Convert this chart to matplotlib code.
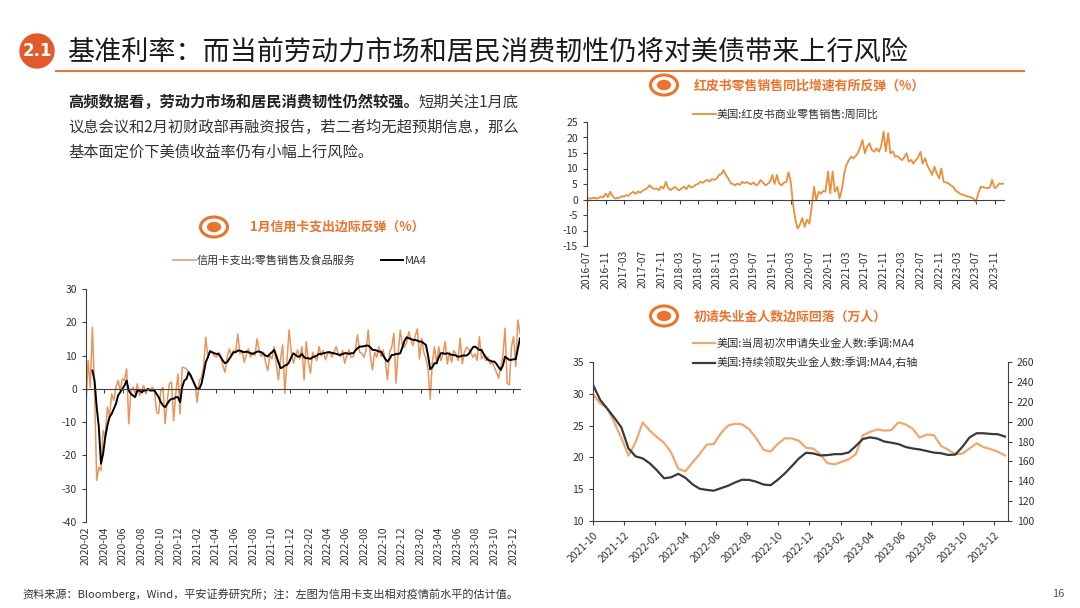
import pandas as pd
import matplotlib
matplotlib.use('Agg')
import matplotlib.pyplot as plt
import matplotlib.dates as mdates
from matplotlib.patches import Circle, Ellipse

plt.rcParams['font.family'] = ['Noto Sans CJK SC', 'DejaVu Sans']
plt.rcParams['axes.unicode_minus'] = False

# ---------------- data ----------------
# credit card spending vs pre-covid level, weekly from 2020-02-01
card_start = '2020-02-01'
card_spend = [
    -4.5, 8.5, 0.5, 18.5, -0.5, -27.5, -23.5, -24.5, -12.5, -14.5,
    -5.5, -8.5, -1.5, -3.5, 0.5, 2.5, -0.5, 3.0, 2.5, 6.0,
    -10.5, -0.5, 0.5, -1.5, 1.5, -2.0, -0.5, 1.0, -1.5, 0.0,
    -0.5, 0.5, -0.5, -7.0, -7.5, -0.5, 0.5, -10.5, -3.5, 1.5,
    2.0, -9.5, -1.5, 4.5, -7.5, 6.5, 6.3, 6.0, 5.0, 3.5,
    2.5, 1.5, -4.0, 2.5, 3.5, 6.5, 15.5, 9.5, 11.5, 11.0,
    10.0, 9.5, 11.0, 10.0, 7.0, 5.0, 9.5, 12.0, 10.0, 11.5,
    11.0, 16.5, 10.5, 11.5, 8.0, 10.5, 12.0, 9.5, 11.0, 10.0,
    15.0, 11.5, 9.7, 11.0, 8.0, 5.5, 10.0, 9.0, 12.7, 7.5,
    2.7, 9.0, 13.2, -1.3, 8.5, 17.7, 11.0, 7.7, 10.0, 11.7,
    9.0, 12.7, 2.7, 14.2, 8.0, 4.7, 11.0, 9.7, 8.5, 12.7,
    10.0, 11.5, 8.7, 10.5, 11.2, 9.5, 11.0, 12.7, 10.5, 9.7,
    11.5, 7.7, 10.0, 11.7, 9.5, 9.7, 12.0, 16.2, 11.0, 10.7,
    9.5, 11.7, 17.7, 10.0, 5.7, 11.0, 9.5, 12.7, 9.7, 11.7,
    8.5, 2.7, 11.0, 12.5, 16.7, 1.7, 11.0, 17.7, 13.0, 12.5,
    14.0, 17.2, 14.5, 13.0, 16.0, 18.0, 9.0, 15.2, 11.0, 9.0,
    6.0, -3.1, 8.0, 12.7, 7.5, 12.7, 8.5, 10.5, 14.2, 7.5,
    11.0, 8.0, 11.5, 10.5, 8.5, 15.2, 7.5, 11.0, 12.5, 12.0,
    11.0, 9.5, 10.5, 8.5, 15.7, 9.0, 10.0, 8.5, 9.5, 7.5,
    8.0, 6.5, 5.0, 3.2, 6.5, 10.0, 18.2, 1.7, 1.2, 12.7,
    15.7, 6.7, 20.7, 16.7,
]
card_ma4_start = '2020-02-22'
card_ma4 = [
    5.5, 2.5, -5.5, -11.5, -22.5, -19.5, -14.5, -11.0, -8.5, -7.5,
    -6.0, -4.5, -2.0, -1.0, 0.0, 1.0, 2.5, -0.5, -1.5, -2.0,
    -2.5, -0.5, -0.5, -1.0, -0.5, -0.5, 0.0, -0.5, -0.5, -0.5,
    -1.5, -2.5, -4.0, -5.0, -5.5, -4.5, -3.5, -3.0, -3.0, -2.5,
    -2.5, -4.0, 0.5, 2.5, 3.0, 5.0, 4.0, 2.5, 1.0, 0.0,
    0.0, 1.5, 4.5, 8.0, 9.5, 11.3, 11.0, 10.7, 10.5, 10.5,
    9.5, 8.5, 7.7, 8.0, 9.0, 10.0, 11.0, 11.0, 11.5, 11.5,
    11.2, 11.0, 11.2, 11.0, 10.7, 10.5, 10.8, 11.2, 11.2, 11.0,
    10.5, 10.0, 9.7, 10.5, 11.0, 11.7, 10.0, 8.0, 6.2, 6.5,
    7.0, 7.2, 8.0, 9.5, 10.7, 10.2, 9.7, 9.7, 10.5, 9.5,
    9.2, 9.2, 9.0, 9.5, 9.7, 10.0, 10.5, 10.5, 10.7, 10.8,
    11.0, 11.0, 10.8, 10.7, 10.5, 10.3, 10.2, 10.5, 10.7, 10.7,
    10.5, 10.7, 10.7, 11.5, 12.2, 12.7, 12.7, 12.8, 13.0, 13.0,
    12.5, 11.7, 11.7, 11.5, 11.2, 11.2, 10.0, 9.0, 8.2, 9.0,
    10.2, 10.2, 10.5, 10.5, 10.7, 12.5, 14.5, 15.5, 15.2, 15.0,
    14.7, 14.7, 14.5, 14.2, 14.2, 13.7, 13.2, 10.0, 5.9, 6.5,
    7.7, 7.7, 9.5, 10.7, 10.7, 10.5, 10.7, 10.5, 10.2, 10.2,
    10.0, 9.7, 9.7, 10.0, 10.0, 10.0, 10.5, 11.5, 12.5, 12.7,
    12.2, 11.7, 11.7, 10.5, 9.5, 8.7, 8.5, 8.2, 8.2, 7.5,
    6.5, 5.7, 7.0, 9.7, 9.2, 8.7, 8.7, 8.9, 8.9, 12.0, 15.2,
]

# Redbook same-store sales yoy, twice a month from 2016-07
redbook_start = '2016-07-01'
redbook_yoy = [
    0.2, 0.4, 0.3, 0.6, 0.3, 0.5, 1.0, 0.6, 1.9, 0.8,
    2.5, 1.2, 0.3, 0.5, 0.6, 1.1, 0.9, 1.4, 1.2, 2.0,
    2.5, 1.8, 2.6, 2.2, 2.8, 3.2, 3.6, 4.6, 3.8, 3.4,
    3.6, 3.0, 4.2, 3.5, 5.7, 3.8, 3.0, 3.6, 4.1, 3.2,
    3.0, 3.6, 4.2, 3.3, 4.6, 3.9, 4.1, 4.8, 5.0, 5.7,
    5.4, 6.0, 6.3, 5.8, 6.6, 6.3, 6.8, 7.9, 8.2, 9.5,
    7.8, 6.8, 5.2, 5.0, 4.6, 5.1, 4.7, 5.7, 5.3, 5.6,
    5.2, 4.9, 5.5, 4.6, 5.0, 6.3, 5.4, 4.6, 5.0, 5.7,
    7.9, 5.0, 7.9, 5.2, 4.6, 5.4, 5.7, 8.8, 5.7, -1.3,
    -6.7, -9.4, -8.0, -6.0, -8.8, -6.5, -7.8, -3.0, 4.1, -0.2,
    2.5, 1.9, 2.8, 2.5, 9.0, 2.0, 9.0, 2.5, 4.1, 0.3,
    3.6, 8.4, 11.0, 12.5, 13.8, 13.3, 14.0, 14.9, 17.0, 19.2,
    14.9, 17.0, 18.1, 16.0, 15.4, 16.5, 15.4, 17.0, 21.9, 15.5,
    21.4, 14.9, 15.5, 13.8, 14.0, 13.3, 12.7, 13.5, 14.9, 12.2,
    12.8, 11.6, 12.7, 13.5, 15.4, 11.6, 13.3, 11.0, 9.5, 7.9,
    10.6, 8.5, 6.8, 10.0, 5.7, 5.5, 5.2, 4.6, 4.1, 3.0,
    2.5, 1.9, 1.6, 1.4, 1.1, 0.9, 0.6, 0.3, -0.8, 1.9,
    4.1, 4.0, 3.8, 3.6, 4.0, 6.3, 3.6, 4.1, 5.2, 5.0,
    5.2,
]

# jobless claims MA4 (10k persons), every two weeks from 2021-10-01
claims_start = '2021-10-01'
initial_claims = [
    29.9, 28.5, 27.8, 25.5, 23.0, 20.3, 22.4, 25.5, 24.2, 23.2,
    22.3, 20.8, 18.2, 17.8, 19.2, 20.5, 22.0, 22.1, 23.8, 25.0,
    25.3, 25.2, 24.4, 23.0, 21.2, 20.9, 22.1, 23.0, 23.0, 22.6,
    21.5, 21.4, 20.5, 19.1, 18.9, 19.3, 19.7, 20.5, 23.5, 24.0,
    24.4, 24.2, 24.3, 25.5, 25.2, 24.5, 23.1, 23.6, 23.5, 21.8,
    21.2, 20.5, 20.6, 21.4, 22.2, 21.6, 21.3, 20.9, 20.3,
]
continuing_claims = [
    237, 222, 213, 204, 194, 173, 165, 163, 158, 151,
    143, 144, 147.5, 143.5, 137, 132.5, 131.3, 130.5, 133, 135.4,
    138.8, 141.5, 141.3, 139.5, 136.7, 136, 141.4, 147.8, 155.3, 163,
    168.7, 168, 166, 166.3, 167.3, 167.3, 169, 175.5, 182.5, 184.2,
    183, 180, 178.8, 177.4, 174.5, 173, 172, 170.4, 168.8, 168.2,
    166.5, 166.8, 174.5, 184, 188.3, 188.3, 187.6, 187.3, 185,
]

title = '基准利率：而当前劳动力市场和居民消费韧性仍将对美债带来上行风险'
para_bold = '高频数据看，劳动力市场和居民消费韧性仍然较强。'
para_rest = ['短期关注1月底',
             '议息会议和2月初财政部再融资报告，若二者均无超预期信息，那么',
             '基本面定价下美债收益率仍有小幅上行风险。']
footer = '资料来源：Bloomberg，Wind，平安证券研究所；注：左图为信用卡支出相对疫情前水平的估计值。'

ORANGE = '#E8742E'
LINE_OR = '#E8955C'
AXC = '#404040'

card_dates = pd.date_range(card_start, periods=len(card_spend), freq='7D')
ma4_dates = pd.date_range(card_ma4_start, periods=len(card_ma4), freq='7D')
redbook_dates = pd.date_range(redbook_start, periods=len(redbook_yoy), freq='SMS')
claims_dates = pd.date_range(claims_start, periods=len(initial_claims), freq='14D')

fig = plt.figure(figsize=(10.8, 6.08), dpi=100)

# overlay in pixel coordinates for header / text / icons
ov = fig.add_axes([0, 0, 1, 1], zorder=0)
ov.set_xlim(0, 1080)
ov.set_ylim(608, 0)
ov.axis('off')

ov.add_patch(Circle((37, 51), 17, color='#E35A2A'))
ov.text(37, 51, '2.1', color='white', fontsize=12, fontweight='bold',
        ha='center', va='center', family='DejaVu Sans')
ov.text(67, 52, title, fontsize=19.5, ha='left', va='center', color='#1a1a1a')
ov.plot([56, 1024], [71, 71], color='#E07B39', lw=1.5)

t1 = ov.text(68, 102, para_bold, fontsize=11.0, fontweight='bold',
             ha='left', va='center', color='#222222')
ov.annotate(para_rest[0], xy=(1, 0.5), xycoords=t1, fontsize=11.0,
            ha='left', va='center', color='#333333')
ov.text(68, 127, para_rest[1], fontsize=11.0, ha='left', va='center', color='#333333')
ov.text(68, 152, para_rest[2], fontsize=11.0, ha='left', va='center', color='#333333')


def icon(x, y):
    ov.add_patch(Ellipse((x, y), 27, 20, fill=False, ec=ORANGE, lw=2.2))
    ov.add_patch(Ellipse((x, y), 13, 9, color=ORANGE))


icon(214, 227)
ov.text(250, 227, '1月信用卡支出边际反弹（%）', fontsize=9.3, fontweight='bold',
        color=ORANGE, ha='left', va='center')
icon(664, 85)
ov.text(694, 86, '红皮书零售销售同比增速有所反弹（%）', fontsize=9.3, fontweight='bold',
        color=ORANGE, ha='left', va='center')
icon(664, 316)
ov.text(694, 317, '初请失业金人数边际回落（万人）', fontsize=9.3, fontweight='bold',
        color=ORANGE, ha='left', va='center')

ov.text(22, 594, footer, fontsize=8, color='#333333', ha='left', va='center')
ov.text(1058, 594, '16', fontsize=8, color='#555555', ha='center', va='center')


def style_axis(ax):
    ax.set_facecolor('none')
    for s in ['top', 'right']:
        ax.spines[s].set_visible(False)
    ax.spines['left'].set_color(AXC)
    ax.spines['bottom'].set_color(AXC)
    ax.tick_params(axis='both', colors=AXC, labelcolor='#333333', labelsize=7.5,
                   direction='out', length=3, width=0.8)


def zero_xaxis(ax, ticks):
    # axis line at y=0 with ticks, labels at the bottom of the plot
    pos = mdates.date2num(ticks)
    ax.spines['bottom'].set_position(('data', 0))
    ax.set_xticks(pos)
    ax.tick_params(axis='x', labelbottom=False)
    sec = ax.secondary_xaxis('bottom')
    sec.set_xticks(pos, [d.strftime('%Y-%m') for d in ticks], rotation=90)
    sec.tick_params(length=0, labelsize=7.5, labelcolor='#333333', pad=3)
    sec.spines['bottom'].set_visible(False)


# ---- left: credit card spending ----
ax1 = fig.add_axes([86 / 1080, 1 - 522 / 608, 434 / 1080, 233 / 608], zorder=2)
style_axis(ax1)
l1, = ax1.plot(card_dates, card_spend, color=LINE_OR, lw=1.1)
l2, = ax1.plot(ma4_dates, card_ma4, color='black', lw=1.4)
ax1.set_ylim(-40, 30)
ax1.set_yticks(range(-40, 31, 10))
ax1.set_xlim(card_dates[0], card_dates[-1])
zero_xaxis(ax1, pd.date_range('2020-02-01', '2023-12-01', freq='2MS'))
ax1.legend([l1, l2], ['信用卡支出:零售销售及食品服务', 'MA4'], loc='center',
           bbox_to_anchor=(300, 261), bbox_transform=ov.transData, ncol=2,
           frameon=False, fontsize=8, handlelength=2.0, handletextpad=0.1,
           columnspacing=2.3, labelcolor='#333333')

# ---- right top: Redbook ----
ax2 = fig.add_axes([587 / 1080, 1 - 246 / 608, 417 / 1080, 124 / 608], zorder=2)
style_axis(ax2)
l3, = ax2.plot(redbook_dates, redbook_yoy, color='#E8903E', lw=1.3)
ax2.set_ylim(-15, 25)
ax2.set_yticks(range(-15, 26, 5))
ax2.set_xlim(redbook_dates[0], redbook_dates[-1])
zero_xaxis(ax2, pd.date_range('2016-07-01', '2023-11-01', freq='4MS'))
ax2.legend([l3], ['美国:红皮书商业零售销售:周同比'], loc='center',
           bbox_to_anchor=(786, 115), bbox_transform=ov.transData,
           frameon=False, fontsize=8, handlelength=2.0, handletextpad=0.1,
           labelcolor='#333333')

# ---- right bottom: jobless claims ----
ax3 = fig.add_axes([593 / 1080, 1 - 521 / 608, 415 / 1080, 159 / 608], zorder=2)
style_axis(ax3)
l4, = ax3.plot(claims_dates, initial_claims, color='#F0A870', lw=1.6)
ax3.set_ylim(10, 35)
ax3.set_yticks(range(10, 36, 5))
ax3.set_xlim(pd.Timestamp('2021-10-01'), pd.Timestamp('2023-12-28'))
xt = pd.date_range('2021-10-01', '2023-12-01', freq='2MS')
ax3.set_xticks(mdates.date2num(xt), [d.strftime('%Y-%m') for d in xt],
               rotation=45, ha='right', rotation_mode='anchor')
ax3b = ax3.twinx()
ax3b.set_facecolor('none')
l5, = ax3b.plot(claims_dates, continuing_claims, color='#3A3A3A', lw=1.6)
ax3b.set_ylim(100, 260)
ax3b.set_yticks(range(100, 261, 20))
for s in ['top', 'left', 'bottom']:
    ax3b.spines[s].set_visible(False)
ax3b.spines['right'].set_color(AXC)
ax3b.tick_params(axis='y', colors=AXC, labelcolor='#333333', labelsize=7.5,
                 direction='out', length=3, width=0.8)
ax3.legend([l4, l5], ['美国:当周初次申请失业金人数:季调:MA4', '美国:持续领取失业金人数:季调:MA4,右轴'],
           loc='center left', bbox_to_anchor=(683, 353), bbox_transform=ov.transData,
           frameon=False, fontsize=8, handlelength=2.0, handletextpad=0.1,
           labelspacing=0.75, labelcolor='#333333')

fig.savefig('out.png', dpi=100)
